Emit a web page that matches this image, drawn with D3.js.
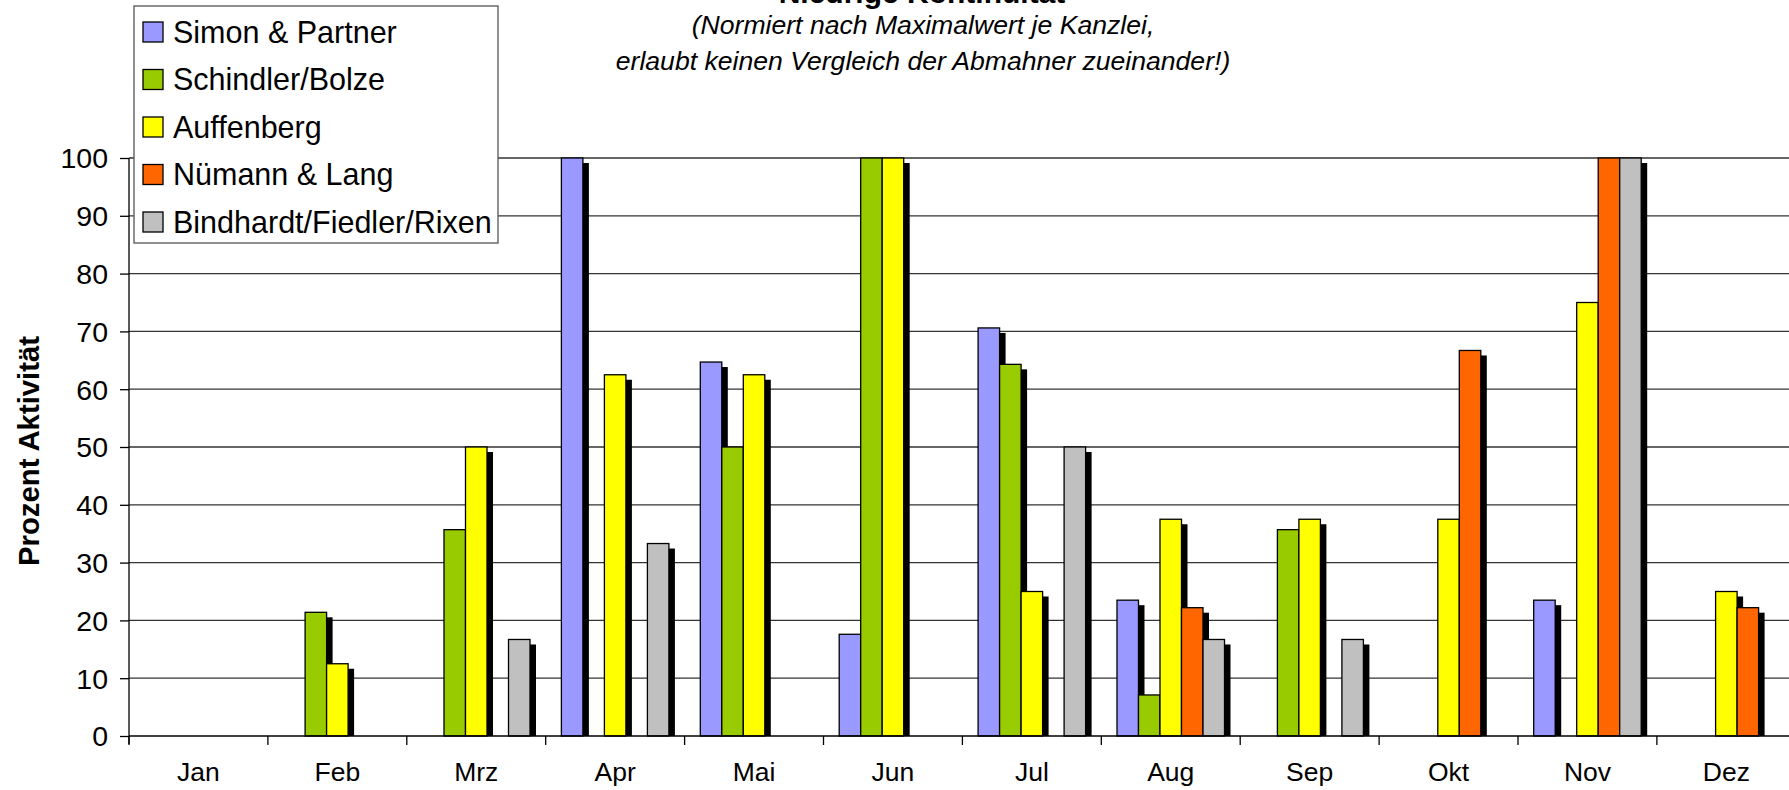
<!DOCTYPE html>
<html lang="de">

<head>
    <meta charset="UTF-8">
    <title>Niedrige Kontinuität</title>
    <script src="https://d3js.org/d3.v7.min.js"></script>
    <style>
        body { margin: 0; background: #fff; }
        text { font-family: "Liberation Sans", Arial, sans-serif; fill: #000; }
    </style>
</head>

<body>
    <svg id="chart" width="1789" height="790"></svg>

    <script>
        // data (percent of each firm's maximum month)
        const months = ["Jan", "Feb", "Mrz", "Apr", "Mai", "Jun", "Jul", "Aug", "Sep", "Okt", "Nov", "Dez"];
        const firms = ["Simon & Partner", "Schindler/Bolze", "Auffenberg", "Nümann & Lang", "Bindhardt/Fiedler/Rixen"];
        const colors = ["#9999FF", "#99CC00", "#FFFF00", "#FF6600", "#C0C0C0"];

        const simon      = [0, 0, 0, 100, 64.7, 17.6, 70.6, 23.5, 0, 0, 23.5, 0];
        const schindler  = [0, 21.4, 35.7, 0, 50, 100, 64.3, 7.1, 35.7, 0, 0, 0];
        const auffenberg = [0, 12.5, 50, 62.5, 62.5, 100, 25, 37.5, 37.5, 37.5, 75, 25];
        const numann     = [0, 0, 0, 0, 0, 0, 0, 22.2, 0, 66.7, 100, 22.2];
        const bindhardt  = [0, 0, 16.7, 33.3, 0, 0, 50, 16.7, 16.7, 0, 100, 0];
        const seriesValues = [simon, schindler, auffenberg, numann, bindhardt];

        const yTicks = [0, 10, 20, 30, 40, 50, 60, 70, 80, 90, 100];

        const svg = d3.select("#chart");
        const width = +svg.attr("width");

        const plotLeft = 129;
        const plotRight = 1795.8;   // plot runs slightly past the picture edge
        const plotBottom = 736;
        const plotTop = 158;

        const x0 = d3.scaleBand()
            .domain(months)
            .range([plotLeft, plotRight])
            .paddingInner(0.226)
            .paddingOuter(0.113);
        const x1 = d3.scaleBand()
            .domain(firms)
            .range([0, x0.bandwidth()]);
        const y = d3.scaleLinear().domain([0, 100]).range([plotBottom, plotTop]);
        const color = d3.scaleOrdinal().domain(firms).range(colors);

        // flat list of bars
        const bars = [];
        months.forEach((m, i) => {
            firms.forEach((f, j) => {
                const v = seriesValues[j][i];
                if (v > 0) bars.push({ month: m, firm: f, value: v });
            });
        });

        // gridlines
        svg.append("g")
            .selectAll("line")
            .data(yTicks.filter(d => d > 0))
            .join("line")
            .attr("x1", plotLeft)
            .attr("x2", width)
            .attr("y1", d => y(d))
            .attr("y2", d => y(d))
            .attr("stroke", "#333")
            .attr("stroke-width", 1.3);

        // shadows first, then bars on top
        const shadowDx = 6, shadowDy = 5;
        svg.append("g")
            .selectAll("rect")
            .data(bars)
            .join("rect")
            .attr("x", d => x0(d.month) + x1(d.firm) + shadowDx)
            .attr("y", d => y(d.value) + shadowDy)
            .attr("width", x1.bandwidth())
            .attr("height", d => Math.max(0, y(0) - y(d.value) - shadowDy))
            .attr("fill", "#000");

        svg.append("g")
            .selectAll("rect")
            .data(bars)
            .join("rect")
            .attr("x", d => x0(d.month) + x1(d.firm))
            .attr("y", d => y(d.value))
            .attr("width", x1.bandwidth())
            .attr("height", d => y(0) - y(d.value))
            .attr("fill", d => color(d.firm))
            .attr("stroke", "#000")
            .attr("stroke-width", 1.3);

        // y axis
        const yAxis = svg.append("g")
            .attr("transform", `translate(${plotLeft},0)`)
            .call(d3.axisLeft(y).tickValues(yTicks).tickSize(9).tickSizeOuter(0).tickPadding(12));
        yAxis.select(".domain").remove();
        yAxis.selectAll("line").attr("stroke", "#000").attr("stroke-width", 1.3);
        yAxis.selectAll("text")
            .style("font-size", "28.5px")
            .attr("dy", "0.35em");
        svg.append("line")
            .attr("x1", plotLeft).attr("x2", plotLeft)
            .attr("y1", plotTop).attr("y2", plotBottom + 8)
            .attr("stroke", "#000").attr("stroke-width", 1.3);

        // x axis: baseline, ticks between months, labels centred
        svg.append("line")
            .attr("x1", plotLeft).attr("x2", width)
            .attr("y1", plotBottom).attr("y2", plotBottom)
            .attr("stroke", "#000").attr("stroke-width", 1.5);

        const step = x0.step();
        svg.append("g")
            .selectAll("line")
            .data(d3.range(months.length + 1))
            .join("line")
            .attr("x1", i => plotLeft + i * step)
            .attr("x2", i => plotLeft + i * step)
            .attr("y1", plotBottom)
            .attr("y2", plotBottom + 9)
            .attr("stroke", "#000")
            .attr("stroke-width", 1.3);

        const xAxis = svg.append("g")
            .attr("transform", `translate(0,${plotBottom})`)
            .call(d3.axisBottom(x0).tickSize(0).tickPadding(0));
        xAxis.select(".domain").remove();
        xAxis.selectAll("text")
            .attr("dy", null)
            .attr("y", 45)
            .style("font-size", "26.5px");

        // axis title
        svg.append("text")
            .attr("transform", "translate(39,451) rotate(-90)")
            .attr("text-anchor", "middle")
            .style("font-size", "29.3px")
            .style("font-weight", "bold")
            .text("Prozent Aktivität");

        // titles (top line is cut off by the picture edge, as in the original)
        svg.append("text")
            .attr("x", 922).attr("y", 3)
            .attr("text-anchor", "middle")
            .style("font-size", "30px")
            .style("font-weight", "bold")
            .text("Niedrige Kontinuität");
        svg.append("text")
            .attr("x", 923).attr("y", 34)
            .attr("text-anchor", "middle")
            .style("font-size", "26.6px")
            .style("font-style", "italic")
            .text("(Normiert nach Maximalwert je Kanzlei,");
        svg.append("text")
            .attr("x", 923).attr("y", 70)
            .attr("text-anchor", "middle")
            .style("font-size", "26.6px")
            .style("font-style", "italic")
            .text("erlaubt keinen Vergleich der Abmahner zueinander!)");

        // legend
        const legend = svg.append("g");
        legend.append("rect")
            .attr("x", 134).attr("y", 6)
            .attr("width", 364).attr("height", 237)
            .attr("fill", "#fff")
            .attr("stroke", "#555")
            .attr("stroke-width", 1.3);
        const rowH = 47.5;
        const items = legend.selectAll("g.item")
            .data(firms)
            .join("g")
            .attr("class", "item")
            .attr("transform", (d, i) => `translate(143,${32 + i * rowH})`);
        items.append("rect")
            .attr("x", 0).attr("y", -10)
            .attr("width", 20).attr("height", 20)
            .attr("fill", d => color(d))
            .attr("stroke", "#000")
            .attr("stroke-width", 1.3);
        items.append("text")
            .attr("x", 30).attr("y", 10.5)
            .style("font-size", "30.5px")
            .text(d => d);
    </script>
</body>

</html>
